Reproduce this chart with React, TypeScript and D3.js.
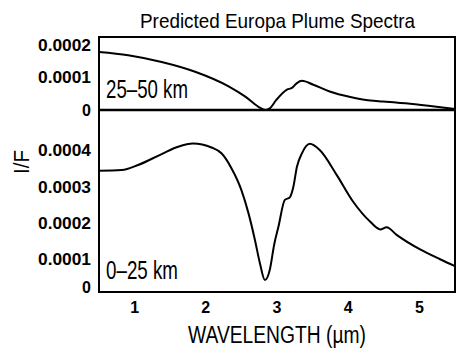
import React from "react";
import * as d3 from "d3";

// Upper panel (25–50 km): wavelength (µm) and I/F values
const topWave = [0.5, 0.91, 1.38, 1.85, 2.32, 2.55, 2.74, 2.84, 2.9, 2.99, 3.14, 3.21, 3.28, 3.35, 3.51, 3.74, 4.03, 4.31, 4.49, 4.87, 5.24, 5.5];
const topVal = [1.79e-4, 1.69e-4, 1.48e-4, 1.18e-4, 0.73e-4, 0.42e-4, 0.1e-4, 0.0, 0.05e-4, 0.31e-4, 0.63e-4, 0.68e-4, 0.83e-4, 0.9e-4, 0.78e-4, 0.57e-4, 0.4e-4, 0.29e-4, 0.26e-4, 0.19e-4, 0.1e-4, 0.03e-4];

// Lower panel (0–25 km)
const botWave = [0.5, 0.82, 1.05, 1.38, 1.61, 1.82, 2.08, 2.22, 2.36, 2.5, 2.6, 2.69, 2.76, 2.83, 2.9, 2.96, 3.02, 3.11, 3.18, 3.23, 3.28, 3.35, 3.46, 3.6, 3.84, 4.07, 4.31, 4.45, 4.54, 4.68, 5.01, 5.29, 5.5];
const botVal = [3.33e-4, 3.35e-4, 3.49e-4, 3.79e-4, 3.99e-4, 4.08e-4, 3.97e-4, 3.81e-4, 3.4e-4, 2.8e-4, 2.16e-4, 1.43e-4, 0.79e-4, 0.33e-4, 0.62e-4, 1.3e-4, 1.79e-4, 2.53e-4, 2.6e-4, 2.89e-4, 3.44e-4, 3.81e-4, 4.07e-4, 3.9e-4, 3.21e-4, 2.48e-4, 1.93e-4, 1.72e-4, 1.78e-4, 1.57e-4, 1.17e-4, 0.9e-4, 0.71e-4];

const xTicks = [1, 2, 3, 4, 5];
const topTicks = [0, 0.0001, 0.0002];
const botTicks = [0, 0.0001, 0.0002, 0.0003, 0.0004];
const tickLabels = (v: number) => (v === 0 ? "0" : v.toFixed(4));

const title = "Predicted Europa Plume Spectra";
const xTitle = "WAVELENGTH (µm)";
const yTitle = "I/F";
const topLabel = "25–50 km";
const botLabel = "0–25 km";

const FONT = "'Liberation Sans Narrow', 'Arial Narrow', 'Liberation Sans', Arial, sans-serif";
const TICKFONT = "'Liberation Sans', Arial, Helvetica, sans-serif";

export default function App() {
  const L = 99, R = 455, T = 37, MID = 110, B = 292;
  const x = d3.scaleLinear().domain([0.5, 5.5]).range([L, R]);
  const yTop = d3.scaleLinear().domain([0, 0.000225]).range([MID, T]);
  const yBot = d3.scaleLinear().domain([0, 0.0005]).range([B, MID]);

  const lineTop = d3.line<number>().x((d, i) => x(topWave[i])).y((d) => yTop(d)).curve(d3.curveMonotoneX);
  const lineBot = d3.line<number>().x((d, i) => x(botWave[i])).y((d) => yBot(d)).curve(d3.curveMonotoneX);

  return (
    <svg width={456} height={350} style={{ position: "absolute", left: 0, top: 0, background: "#fff" }}>
      <rect x={0} y={0} width={456} height={350} fill="#fff" />
      <text x={277.5} y={28} textAnchor="middle" fontFamily={FONT} fontSize={21} textLength={275} lengthAdjust="spacingAndGlyphs">{title}</text>

      <path d={lineTop(topVal) || ""} fill="none" stroke="#000" strokeWidth={2} />
      <path d={lineBot(botVal) || ""} fill="none" stroke="#000" strokeWidth={2} />

      <rect x={L} y={T} width={R - L} height={B - T} fill="none" stroke="#000" strokeWidth={2} />
      <line x1={L} x2={R} y1={MID} y2={MID} stroke="#000" strokeWidth={2.5} />

      {topTicks.map((v) => (
        <text key={"t" + v} x={91} y={yTop(v)} dy="0.36em" textAnchor="end" fontFamily={TICKFONT} fontWeight="bold" fontSize={16}
          textLength={v === 0 ? undefined : 53} lengthAdjust="spacingAndGlyphs">{tickLabels(v)}</text>
      ))}
      {botTicks.map((v) => (
        <text key={"b" + v} x={91} y={v === 0 ? yBot(v) - 5 : yBot(v) + 4} dy="0.36em" textAnchor="end" fontFamily={TICKFONT} fontWeight="bold" fontSize={16}
          textLength={v === 0 ? undefined : 53} lengthAdjust="spacingAndGlyphs">{tickLabels(v)}</text>
      ))}
      {xTicks.map((v) => (
        <text key={"x" + v} x={x(v)} y={313} textAnchor="middle" fontFamily={TICKFONT} fontWeight="bold" fontSize={16}>{v}</text>
      ))}

      <text x={106} y={98} fontFamily={FONT} fontSize={26} textLength={82} lengthAdjust="spacingAndGlyphs">{topLabel}</text>
      <text x={106} y={279} fontFamily={FONT} fontSize={26} textLength={72} lengthAdjust="spacingAndGlyphs">{botLabel}</text>

      <text x={277} y={343} textAnchor="middle" fontFamily={FONT} fontSize={23} textLength={178} lengthAdjust="spacingAndGlyphs">{xTitle}</text>
      <text transform="translate(29,162) rotate(-90)" textAnchor="middle" fontFamily={FONT} fontSize={22} textLength={24} lengthAdjust="spacingAndGlyphs">{yTitle}</text>
    </svg>
  );
}
